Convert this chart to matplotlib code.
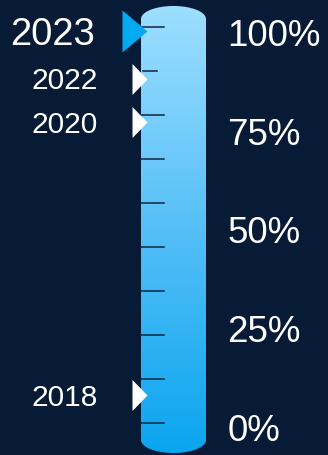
import matplotlib.pyplot as plt
import numpy as np
from matplotlib.path import Path
from matplotlib.patches import PathPatch
from matplotlib.colors import LinearSegmentedColormap

plt.rcParams['font.family'] = ['Liberation Sans', 'DejaVu Sans']

# data
years = ['2023', '2022', '2020', '2018']
values = [99, 87, 76, 7]
highlight = '2023'
pct_ticks = [0, 25, 50, 75, 100]
pct_labels = ['0%', '25%', '50%', '75%', '100%']
n_minor = 10

bg = '#081b36'
W, H = 328, 455
# pixel rows of 0% and 100% on the scale
y0_px, y100_px = 422.5, 27.4
ppu = (y0_px - y100_px) / 100.0

fig = plt.figure(figsize=(W / 100, H / 100), dpi=100, facecolor=bg)
ax = fig.add_axes([0, 0, 1, 1])
ax.set_facecolor(bg)
ax.axis('off')
ylim = ((y0_px - H) / ppu, y0_px / ppu)

# cylinder (tube)
cx0, cx1 = 141, 206
rx = (cx1 - cx0) / 2
ry = 13 / ppu
top_c = (y0_px - 19) / ppu
bot_c = (y0_px - 440) / ppu
t1 = np.linspace(0, np.pi, 60)
t2 = np.linspace(np.pi, 2 * np.pi, 60)
xs = np.concatenate([cx0 + rx + rx * np.cos(t1), cx0 + rx + rx * np.cos(t2)])
ys = np.concatenate([top_c + ry * np.sin(t1), bot_c + ry * np.sin(t2)])
tube = PathPatch(Path(np.column_stack([xs, ys])), facecolor='none', edgecolor='none')
ax.add_patch(tube)
cmap = LinearSegmentedColormap.from_list('tube', ['#0aa5ef', '#55bff7', '#9ddfff'])
grad = np.linspace(0, 1, 256).reshape(-1, 1)
im = ax.imshow(grad, cmap=cmap, origin='lower', aspect='auto',
               extent=[cx0, cx1, bot_c - ry, top_c + ry], zorder=1)
im.set_clip_path(tube)

# scale ticks inside the tube
tick_vals = np.linspace(0, 100, n_minor)
for i, tv in enumerate(tick_vals):
    x_start, x_end = (143, 157) if i == n_minor - 2 else (cx0, 164)
    ax.plot([x_start, x_end], [tv, tv], color='#10263f', lw=1.1, zorder=2)

# percentage labels on the right
for v, lab in zip(pct_ticks, pct_labels):
    size = 26.5
    ax.annotate(lab, (227.5, v), xytext=(0, -(0.358 * size + 3.8)),
                textcoords='offset points', ha='left', va='baseline',
                color='white', fontsize=size, zorder=3)

# year markers
for yr, v in zip(years, values):
    big = yr == highlight
    if big:
        w, h, col, size, tx = 25, 42, '#03a9f1', 27.5, 94.8
    else:
        w, h, col, size, tx = 15, 31, 'white', 21.5, 97.8
    verts = [(-w, -h / 2), (0, 0), (-w, h / 2), (-w, -h / 2)]
    m = Path(verts, [Path.MOVETO, Path.LINETO, Path.LINETO, Path.CLOSEPOLY])
    ms = max(w, h / 2) * 2 / (100 / 72)
    ax.scatter([146.5], [v], marker=m, s=ms ** 2, color=col, lw=0, zorder=4)
    ax.annotate(yr, (tx, v), xytext=(0, -0.358 * size), textcoords='offset points',
                ha='right', va='baseline', color='white', fontsize=size, zorder=3)

ax.set_xlim(0, W)
ax.set_ylim(*ylim)
fig.savefig('out.png', dpi=100, facecolor=bg)
